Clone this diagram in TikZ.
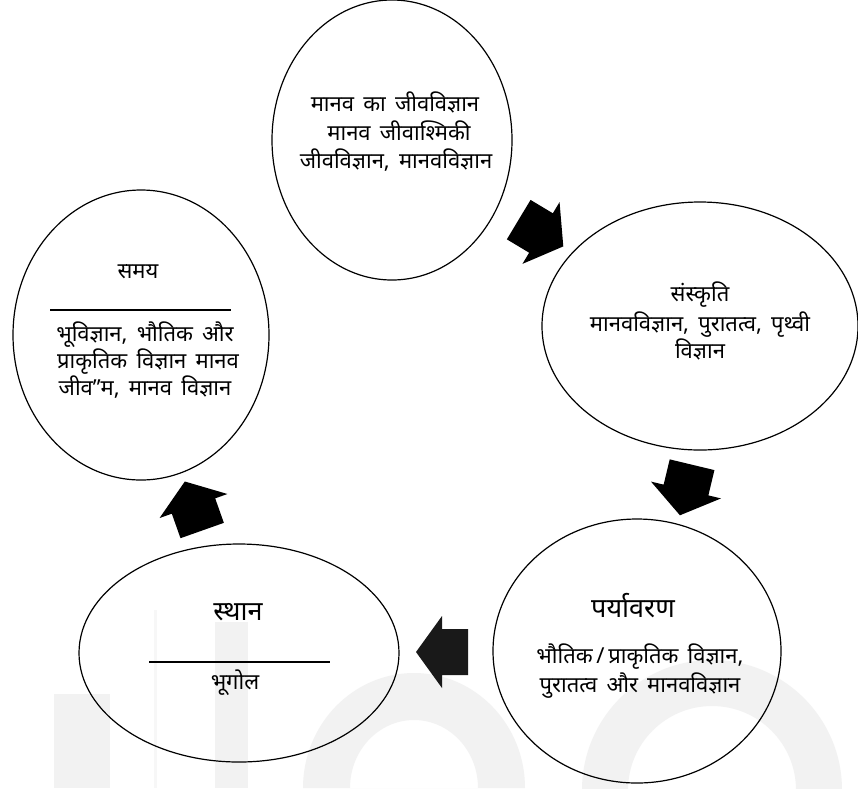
\documentclass[tikz,border=0pt]{standalone}
\usepackage{fontspec}
\newfontfamily\dev[Script=Devanagari,WordSpace=1.6]{Noto Sans}
\usetikzlibrary{shapes.geometric}
\tikzset{
  ell/.style={shape=ellipse, draw=black, line width=1.2pt, inner sep=0pt, outer sep=0pt},
  txt/.style={font=\dev\fontsize{22}{26}\selectfont, inner sep=0pt, text height=0.7em, text depth=0.1em},
  head/.style={font=\dev\fontsize{27}{30}\selectfont, inner sep=0pt, text height=0.7em, text depth=0.1em},
  sep/.style={line width=1.2pt},
  wm/.style={fill=black!5, draw=none},
  blk/.pic={\fill[pic actions] (-26,-23) -- (0,-23) -- (0,-36) -- (26,0) -- (0,36) -- (0,23) -- (-26,23) -- cycle;}
}
\begin{document}
\begin{tikzpicture}[x=1pt,y=-1pt]
\useasboundingbox[fill=white] (0,0) rectangle (858,788);
% faint watermark
\fill[wm] (54,694) rectangle (110,788);
\fill[black!3] (154,610) rectangle (157,788);
\fill[wm] (215,622) rectangle (248,788);
\fill[wm,even odd rule] (303,788) arc[start angle=180,end angle=0,x radius=111pt,y radius=115pt] -- cycle
  (350,788) arc[start angle=180,end angle=0,x radius=64pt,y radius=68pt] -- cycle;
\fill[wm,even odd rule] (582,790) arc[start angle=180,end angle=0,x radius=130pt,y radius=130pt] -- cycle
  (628,790) arc[start angle=180,end angle=0,x radius=84pt,y radius=84pt] -- cycle;
% ellipses
\node[ell, minimum width=240pt, minimum height=280pt] (etop) at (392,140) {};
\node[ell, minimum width=316pt, minimum height=248pt] (eright) at (700,326) {};
\node[ell, minimum width=256pt, minimum height=290pt] (eleft) at (141,335) {};
\node[ell, minimum width=288pt, minimum height=264pt] (ebr) at (637,651) {};
\node[ell, minimum width=320pt, minimum height=218pt] (ebl) at (239,653) {};
% top texts
\node[txt] (t1) at (395,108) {मानव का जीवविज्ञान};
\node[txt] (t2) at (399,137) {मानव जीवाश्मिकी};
\node[txt] (t3) at (396,165) {जीवविज्ञान, मानवविज्ञान};
% right texts
\node[txt] (r1) at (700,298) {संस्कृति};
\node[txt] (r2) at (700,328) {मानवविज्ञान, पुरातत्व, पृथ्वी};
\node[txt] (r3) at (700,355) {विज्ञान};
% left texts
\node[txt] (l0) at (138,275) {समय};
\coordinate (la) at (50,310);
\coordinate (lb) at (231,310);
\draw[sep] (la) -- (lb);
\node[txt] (l1) at (145,338) {भूविज्ञान, भौतिक और};
\node[txt] (l2) at (148,365) {प्राकृतिक विज्ञान मानव};
\node[txt] (l3) at (145,392) {जीव’’म, मानव विज्ञान};
% bottom right texts
\node[head] (b0) at (633,614) {पर्यावरण};
\node[txt] (b1) at (640,660) {भौतिक\,/\,प्राकृतिक विज्ञान,};
\node[txt] (b2) at (640,689) {पुरातत्व और मानवविज्ञान};
% bottom left texts
\node[head] (s0) at (238,617) {स्थान};
\coordinate (sa) at (149,662);
\coordinate (sb) at (330,662);
\draw[sep] (sa) -- (sb);
\node[txt] (s1) at (235,686) {भूगोल};
% block arrows
\pic[rotate=-31, fill=black] at (541,233) {blk};
\pic[rotate=-103.5, fill=black] at (686,490) {blk};
\pic[rotate=180, fill=black!90] at (442,652) {blk};
\pic[rotate=109.5, fill=black] at (193.5,506) {blk};
\end{tikzpicture}
\end{document}
